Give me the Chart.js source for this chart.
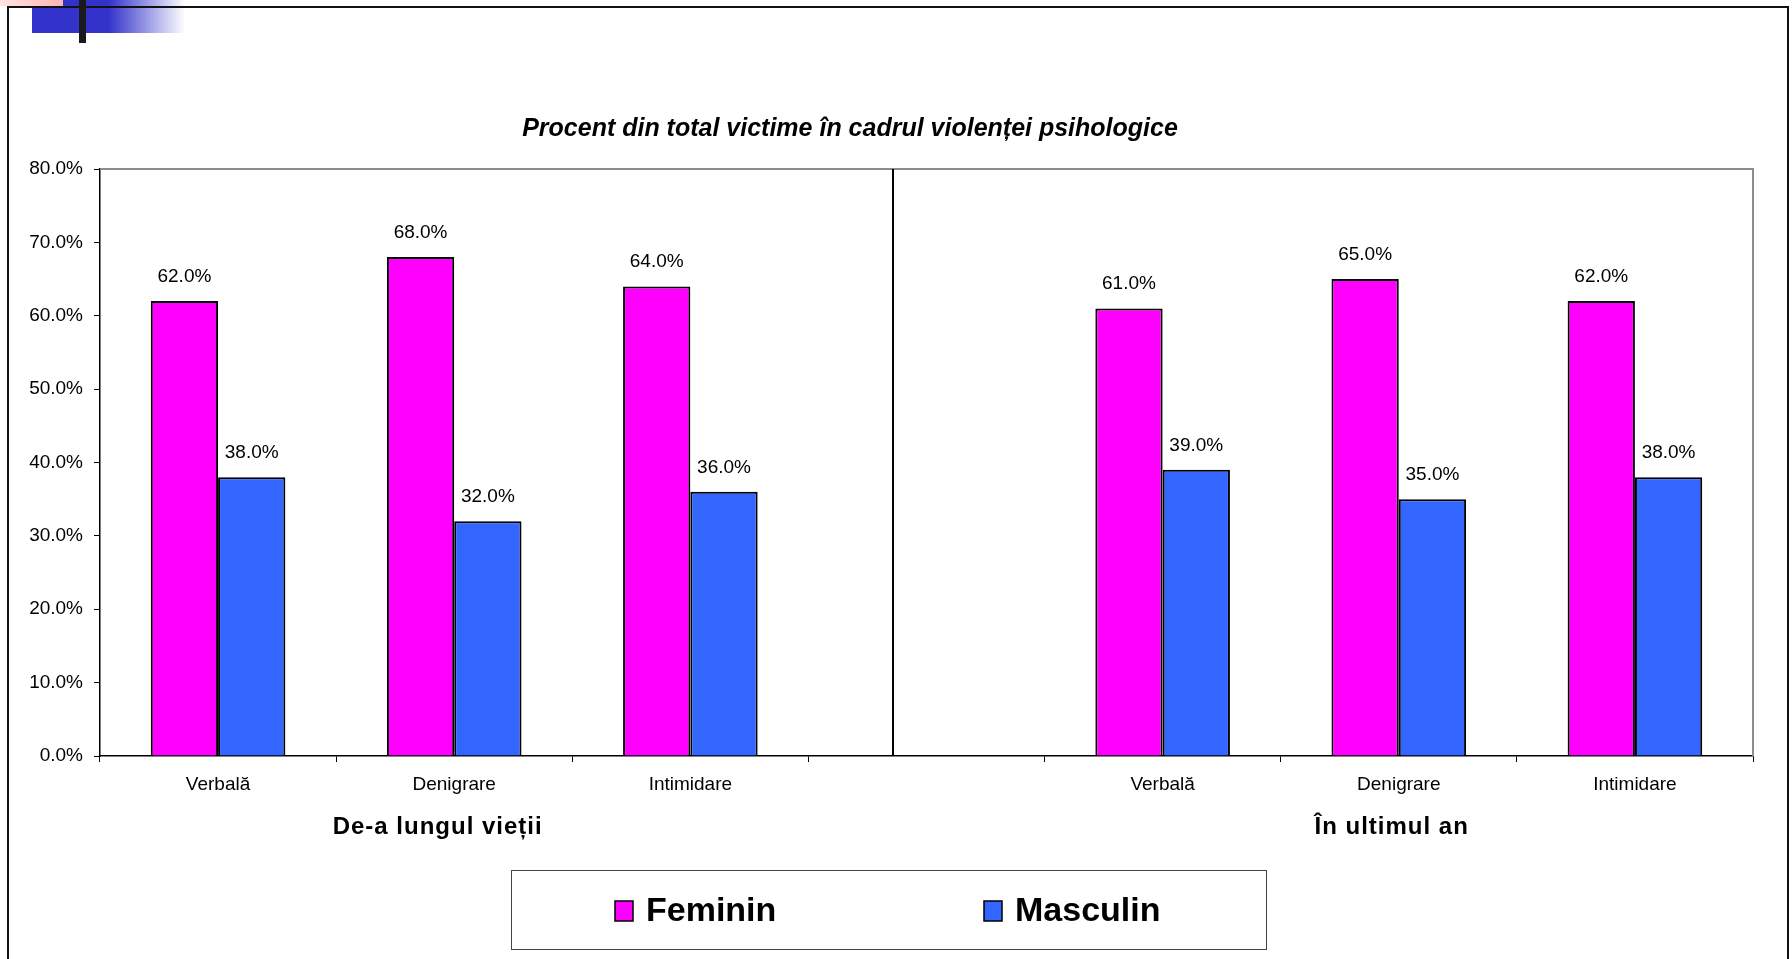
<!DOCTYPE html>
<html>
<head>
<meta charset="utf-8">
<title>Procent din total victime în cadrul violenței psihologice</title>
<script src="https://cdn.jsdelivr.net/npm/chart.js@4/dist/chart.umd.min.js"></script>
<style>
    html, body { margin: 0; padding: 0; background: #fff; overflow: hidden; }
    #wrap { position: relative; width: 1792px; height: 959px; }
</style>
</head>
<body>
<div id="wrap"><canvas id="chart"></canvas></div>
<script>
// Data
const categories = ['Verbală', 'Denigrare', 'Intimidare', '', 'Verbală', 'Denigrare', 'Intimidare'];
const feminin = [62, 68, 64, null, 61, 65, 62];
const masculin = [38, 32, 36, null, 39, 35, 38];
const groupLabels = ['De-a lungul vieții', 'În ultimul an'];
const yTicks = [0, 10, 20, 30, 40, 50, 60, 70, 80];
const chartTitle = 'Procent din total victime în cadrul violenței psihologice';

const FONT = "'Liberation Sans', Arial, sans-serif";
const fmt = v => v.toFixed(1) + '%';

// Slide ornament, frame, plot border, titles, divider, labels, legend
const decorPlugin = {
    id: 'decor',
    beforeDraw(chart) {
        const ctx = chart.ctx;
        ctx.save();
        ctx.fillStyle = '#fff';
        ctx.fillRect(0, 0, chart.width, chart.height);

        // blue block fading right
        let g = ctx.createLinearGradient(32, 0, 185, 0);
        g.addColorStop(0, '#3333cc');
        g.addColorStop(0.5, '#3333cc');
        g.addColorStop(1, 'rgba(51,51,204,0)');
        ctx.fillStyle = g;
        ctx.fillRect(32, 0, 153, 33);
        // pink strip
        g = ctx.createLinearGradient(0, 0, 63, 0);
        g.addColorStop(0, '#ffe4e4');
        g.addColorStop(1, '#ffb4b4');
        ctx.fillStyle = g;
        ctx.fillRect(0, 0, 63, 6);

        // slide frame
        ctx.strokeStyle = '#111';
        ctx.lineWidth = 2;
        ctx.strokeRect(8, 7, 1780, 1000);

        // black bar
        ctx.fillStyle = '#1a1a1a';
        ctx.fillRect(79, 0, 7, 43);
        ctx.restore();
    },
    afterDatasetsDraw(chart) {
        const ctx = chart.ctx;
        const area = chart.chartArea;
        const x = chart.scales.x;
        ctx.save();

        // plot border top/right
        ctx.strokeStyle = '#8c8c8c';
        ctx.lineWidth = 2;
        ctx.beginPath();
        ctx.moveTo(area.left, area.top);
        ctx.lineTo(area.right, area.top);
        ctx.lineTo(area.right, area.bottom);
        ctx.stroke();

        // divider between the two periods
        const dx = Math.round(x.getPixelForValue(2.86));
        ctx.strokeStyle = '#000';
        ctx.lineWidth = 2;
        ctx.beginPath();
        ctx.moveTo(dx, area.top);
        ctx.lineTo(dx, area.bottom);
        ctx.stroke();

        // value labels
        ctx.fillStyle = '#000';
        ctx.font = '19px ' + FONT;
        ctx.textAlign = 'center';
        ctx.textBaseline = 'alphabetic';
        chart.data.datasets.forEach((ds, i) => {
            chart.getDatasetMeta(i).data.forEach((bar, j) => {
                const v = ds.data[j];
                if (v == null) return;
                ctx.fillText(fmt(v), bar.x, bar.y - 19);
            });
        });

        // chart title
        ctx.font = 'bold italic 25px ' + FONT;
        ctx.fillText(chartTitle, 850, 136);

        // group labels under the categories
        ctx.font = 'bold 24px ' + FONT;
        ctx.letterSpacing = '1px';
        ctx.fillText(groupLabels[0], x.getPixelForValue(0.93), 834);
        ctx.fillText(groupLabels[1], x.getPixelForValue(4.97), 834);
        ctx.letterSpacing = '0px';

        // legend box
        const L = 511, T = 870, W = 755, H = 79;
        ctx.strokeStyle = '#444';
        ctx.lineWidth = 1;
        ctx.strokeRect(L + 0.5, T + 0.5, W, H);
        const itemX = [L + 104, L + 473];
        ctx.font = 'bold 34px ' + FONT;
        ctx.textAlign = 'left';
        ctx.textBaseline = 'middle';
        chart.data.datasets.forEach((ds, i) => {
            const mx = itemX[i];
            ctx.fillStyle = ds.backgroundColor;
            ctx.fillRect(mx, 901, 18, 20);
            ctx.strokeStyle = '#000';
            ctx.lineWidth = 1.5;
            ctx.strokeRect(mx, 901, 18, 20);
            ctx.fillStyle = '#000';
            ctx.fillText(ds.label, mx + 31, 912);
        });
        ctx.restore();
    }
};

Chart.defaults.color = '#000';
Chart.defaults.font.family = FONT;

new Chart(document.getElementById('chart'), {
    type: 'bar',
    data: {
        labels: categories,
        datasets: [{
            label: 'Feminin',
            data: feminin,
            backgroundColor: '#ff00ff',
            borderColor: '#000',
            borderWidth: 2,
            borderSkipped: 'bottom'
        }, {
            label: 'Masculin',
            data: masculin,
            backgroundColor: '#3366ff',
            borderColor: '#000',
            borderWidth: 2,
            borderSkipped: 'bottom'
        }]
    },
    options: {
        responsive: true,
        maintainAspectRatio: false,
        animation: false,
        categoryPercentage: 0.57,
        barPercentage: 1,
        layout: {
            padding: { left: 8, top: 169, right: 39, bottom: 163 }
        },
        plugins: {
            legend: { display: false },
            title: { display: false },
            tooltip: { enabled: false }
        },
        scales: {
            x: {
                offset: true,
                grid: {
                    offset: true,
                    drawOnChartArea: false,
                    tickLength: 6,
                    tickColor: '#000'
                },
                border: { color: '#000', width: 1.5 },
                ticks: {
                    font: { size: 19 },
                    padding: 11,
                    maxRotation: 0,
                    autoSkip: false
                },
                afterFit(s) { s.height = 40; }
            },
            y: {
                min: 0,
                max: 80,
                afterBuildTicks(s) { s.ticks = yTicks.map(v => ({ value: v })); },
                grid: {
                    drawOnChartArea: false,
                    tickLength: 6,
                    tickColor: '#000'
                },
                border: { color: '#000', width: 1.5 },
                ticks: {
                    font: { size: 19 },
                    padding: 11,
                    callback: v => fmt(v)
                },
                afterFit(s) { s.width = 92; }
            }
        }
    },
    plugins: [decorPlugin]
});
</script>
</body>
</html>
